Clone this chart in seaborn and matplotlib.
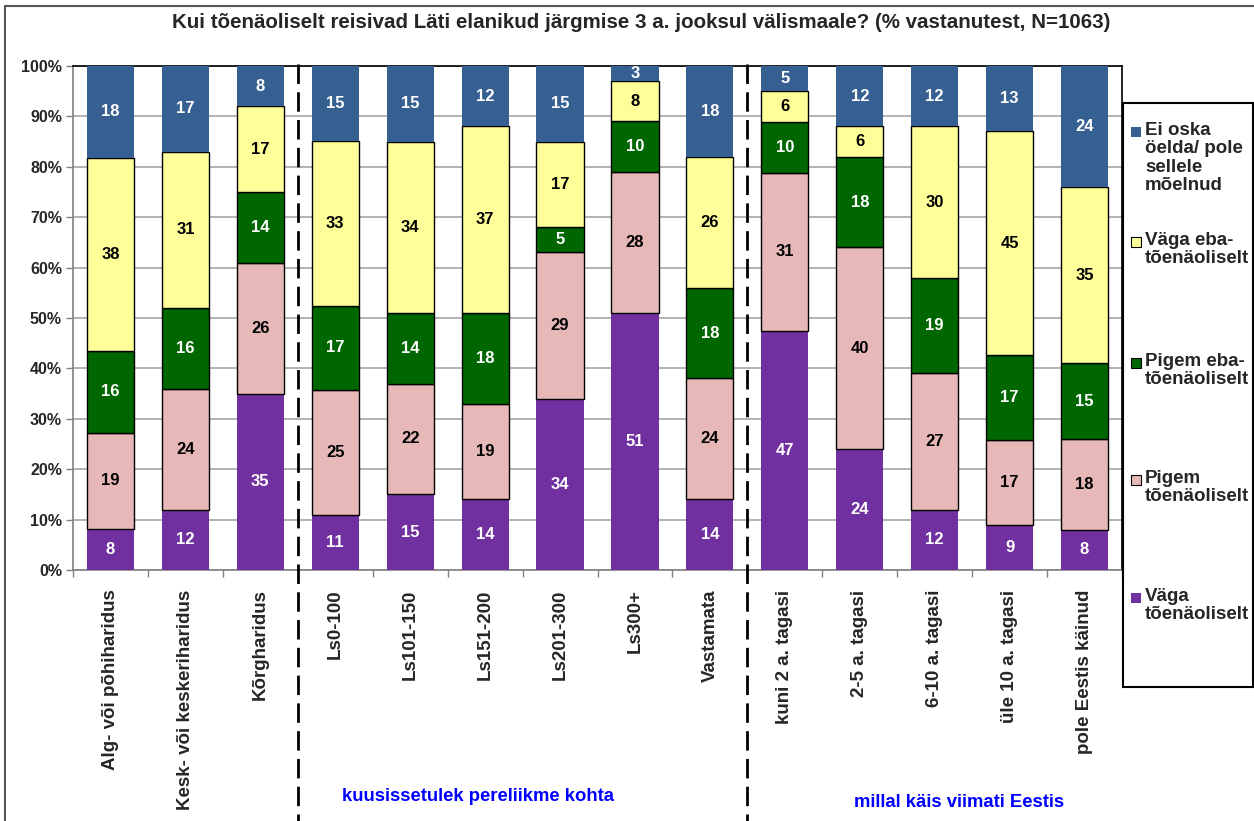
import numpy as np
import pandas as pd
import seaborn as sns
import matplotlib.pyplot as plt
from matplotlib.patches import Rectangle
from matplotlib.lines import Line2D
from matplotlib.transforms import blended_transform_factory

# Survey answers per respondent group (% of respondents)
categories = [
    "Alg- või põhiharidus", "Kesk- või keskeriharidus", "Kõrgharidus",
    "Ls0-100", "Ls101-150", "Ls151-200", "Ls201-300", "Ls300+", "Vastamata",
    "kuni 2 a. tagasi", "2-5 a. tagasi", "6-10 a. tagasi", "üle 10 a. tagasi",
    "pole Eestis käinud",
]
vaga_toenaoliselt = [8, 12, 35, 11, 15, 14, 34, 51, 14, 47, 24, 12, 9, 8]
pigem_toenaoliselt = [19, 24, 26, 25, 22, 19, 29, 28, 24, 31, 40, 27, 17, 18]
pigem_ebatoenaoliselt = [16, 16, 14, 17, 14, 18, 5, 10, 18, 10, 18, 19, 17, 15]
vaga_ebatoenaoliselt = [38, 31, 17, 33, 34, 37, 17, 8, 26, 6, 6, 30, 45, 35]
ei_oska = [18, 17, 8, 15, 15, 12, 15, 3, 18, 5, 12, 12, 13, 24]

series_labels = [
    "Väga\ntõenäoliselt",
    "Pigem\ntõenäoliselt",
    "Pigem eba-\ntõenäoliselt",
    "Väga eba-\ntõenäoliselt",
    "Ei oska\nöelda/ pole\nsellele\nmõelnud",
]
series_values = [vaga_toenaoliselt, pigem_toenaoliselt, pigem_ebatoenaoliselt,
                 vaga_ebatoenaoliselt, ei_oska]
series_colors = ["#7030A0", "#E6B9B8", "#006600", "#FFFF99", "#376092"]
series_edges = ["none", "black", "black", "black", "none"]
series_text = ["white", "black", "white", "black", "white"]

group_labels = ["kuusissetulek pereliikme kohta", "millal käis viimati Eestis"]
title = ("Kui tõenäoliselt reisivad Läti elanikud järgmise 3 a. jooksul "
         "välismaale? (% vastanutest, N=1063)")

sns.set_style("white")
plt.rcParams["font.family"] = ["Liberation Sans", "DejaVu Sans"]
plt.rcParams["font.weight"] = "bold"

W, H = 1254, 821
fig = plt.figure(figsize=(W / 100, H / 100), dpi=100)
ax = fig.add_axes([73 / W, 1 - 570 / H, (1122 - 73) / W, (570 - 66) / H])

# 100% stacked shares
vals = pd.DataFrame(dict(zip(series_labels, series_values)), index=categories)
shares = vals.div(vals.sum(axis=1), axis=0) * 100

bottom = np.zeros(len(categories))
for lab, col, edge, tcol in zip(series_labels, series_colors, series_edges, series_text):
    df = pd.DataFrame({"cat": categories, "share": shares[lab].values})
    sns.barplot(data=df, x="cat", y="share", order=categories, color=col,
                width=0.63, bottom=bottom, edgecolor=edge,
                linewidth=1.0 if edge != "none" else 0, saturation=1,
                errorbar=None, ax=ax, zorder=3)
    for i, (v, s) in enumerate(zip(vals[lab].values, shares[lab].values)):
        ax.text(i, bottom[i] + s / 2, f"{v}", ha="center", va="center",
                color=tcol, fontsize=12, fontweight="bold", zorder=5)
    bottom = bottom + shares[lab].values

ax.set_xlim(-0.5, len(categories) - 0.5)
ax.set_ylim(0, 100)
ax.set_xlabel("")
ax.set_ylabel("")
ax.set_yticks(np.arange(0, 101, 10))
ax.set_yticklabels([f"{t}%" for t in range(0, 101, 10)], fontsize=11.5,
                   fontweight="bold")
ax.yaxis.grid(True, color="#A6A6A6", linewidth=1.2, zorder=0)
ax.set_axisbelow(True)
ax.tick_params(axis="y", length=5, width=1, color="#808080", pad=3, left=True)

ax.set_xticks(range(len(categories)))
ax.set_xticklabels(categories, rotation=90, fontsize=13.5, fontweight="bold")
ax.tick_params(axis="x", which="major", length=0, pad=14)
ax.set_xticks(np.arange(-0.5, len(categories), 1.0), minor=True)
ax.tick_params(axis="x", which="minor", length=5, width=1, color="#808080",
               bottom=True)

for side in ["left", "bottom"]:
    ax.spines[side].set_color("#808080")
    ax.spines[side].set_linewidth(1.2)
for side in ["top", "right"]:
    ax.spines[side].set_color("black")
    ax.spines[side].set_linewidth(1.2)

# Dashed separators between respondent groups
trans = blended_transform_factory(ax.transData, fig.transFigure)
for xsep in [2.5, 8.5]:
    ax.add_line(Line2D([xsep, xsep], [1 - 64 / H, 0], transform=trans,
                       color="black", linewidth=2.0,
                       linestyle=(0, (7, 3)), clip_on=False, zorder=6))

# Group captions
ax.text(4.9, 1 - 796 / H, group_labels[0], transform=trans, color="#0000FF",
        fontsize=13.3, fontweight="bold", ha="center", va="center")
ax.text(11.33, 1 - 802 / H, group_labels[1], transform=trans, color="#0000FF",
        fontsize=13.3, fontweight="bold", ha="center", va="center")

fig.text(641 / W, 1 - 22 / H, title, ha="center", va="center", fontsize=14.8,
         fontweight="bold")

# Legend panel
fig.add_artist(Rectangle((1123 / W, 1 - 687 / H), (1253 - 1123) / W,
                         (687 - 103) / H, transform=fig.transFigure,
                         facecolor="white", edgecolor="black", linewidth=1.5))
legend_y = [132, 242, 363, 480, 598]
legend_order = [4, 3, 2, 1, 0]
for y, k in zip(legend_y, legend_order):
    fig.add_artist(Rectangle((1131 / W, 1 - (y + 5) / H), 10 / W, 10 / H,
                             transform=fig.transFigure,
                             facecolor=series_colors[k],
                             edgecolor="black" if series_edges[k] != "none" else "none",
                             linewidth=0.8))
    fig.text(1145 / W, 1 - (y - 10) / H, series_labels[k], ha="left", va="top",
             fontsize=13.5, fontweight="bold", linespacing=1.1)

# Outer frame
fig.add_artist(Rectangle((5 / W, -0.05), 1.1, 1 - 6 / H + 0.05,
                         transform=fig.transFigure, facecolor="none",
                         edgecolor="#555555", linewidth=1.5))

fig.savefig("out.png", dpi=100)
